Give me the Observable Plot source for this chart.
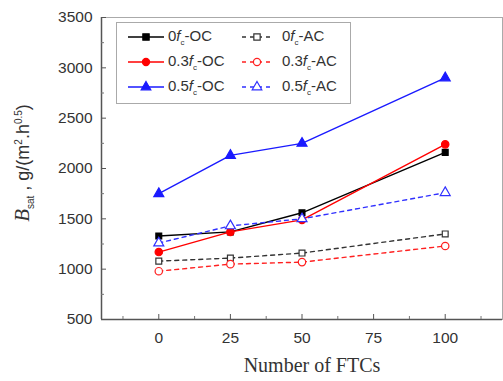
<!DOCTYPE html>
<html><head><meta charset="utf-8">
<script src="https://cdn.jsdelivr.net/npm/d3@7"></script>
<script src="https://cdn.jsdelivr.net/npm/@observablehq/plot@0.6"></script>
<style>
body{margin:0;background:#fff;}
#wrap{position:relative;width:503px;height:381px;font-family:"Liberation Sans",Arial,sans-serif;}
#legend{position:absolute;left:116px;top:22px;width:235px;height:82px;border:1px solid #aaa;background:#fff;box-sizing:border-box;}
.li{position:absolute;display:flex;align-items:center;font-size:15px;color:#333;height:16px;}
.li svg{display:block;}
#ylab{position:absolute;left:23px;top:163px;transform:translate(-50%,-50%) rotate(-90deg);white-space:nowrap;font-size:18px;color:#333;}
</style></head>
<body><div id="wrap"></div>
<script>
const ftc = [0, 25, 50, 100];
const seriesNames = ["0fc-OC","0.3fc-OC","0.5fc-OC","0fc-AC","0.3fc-AC","0.5fc-AC"];
const s0OC  = [1330, 1370, 1560, 2160];
const s03OC = [1170, 1370, 1490, 2240];
const s05OC = [1750, 2130, 2250, 2900];
const s0AC  = [1080, 1110, 1160, 1350];
const s03AC = [980, 1050, 1070, 1230];
const s05AC = [1260, 1430, 1500, 1760];
const xTicks = [0, 25, 50, 75, 100];
const xMinor = [-12.5, 12.5, 37.5, 62.5, 87.5, 112.5];
const yTicks = [500, 1000, 1500, 2000, 2500, 3000, 3500];
const yMinor = [750, 1250, 1750, 2250, 2750, 3250];
const xDomain = [-20, 120];
const yDomain = [500, 3500];
const xLabel = "Number of FTCs";

const styles = [
  {name: seriesNames[0], vals: s0OC,  color: "#000000", symbol: "square",   open: false, dash: null},
  {name: seriesNames[1], vals: s03OC, color: "#ff0000", symbol: "circle",   open: false, dash: null},
  {name: seriesNames[2], vals: s05OC, color: "#1a1aff", symbol: "triangle", open: false, dash: null},
  {name: seriesNames[3], vals: s0AC,  color: "#333333", symbol: "square",   open: true,  dash: "4,4"},
  {name: seriesNames[4], vals: s03AC, color: "#ff2020", symbol: "circle",   open: true,  dash: "4,4"},
  {name: seriesNames[5], vals: s05AC, color: "#3030ff", symbol: "triangle", open: true,  dash: "4,4"}
];
const rOf = {square: 3.3, circle: 3.7, triangle: 3.7};

const marks = [];
marks.push(Plot.frame({stroke: "#aaa"}));
marks.push(Plot.ruleX([xDomain[0]], {stroke: "#555", strokeWidth: 1.5}));
marks.push(Plot.ruleY([yDomain[0]], {stroke: "#555", strokeWidth: 1.5}));
marks.push(Plot.axisY({ticks: yTicks, tickSize: -5, tickPadding: 14, tickFormat: d3.format("d"), fontSize: 15.5, fill: "#333", stroke: "#555", label: null}));
marks.push(Plot.axisY({ticks: yMinor, tickSize: -3, tickFormat: () => "", stroke: "#777", label: null}));
marks.push(Plot.axisX({ticks: xTicks, tickSize: -5, tickPadding: 17, tickFormat: d3.format("d"), fontSize: 15.5, fill: "#333", stroke: "#555", label: null}));
marks.push(Plot.axisX({ticks: xMinor, tickSize: -3, tickFormat: () => "", stroke: "#777", label: null}));
marks.push(Plot.text([xLabel], {frameAnchor: "bottom", dy: 52, dx: 10, fontFamily: "Liberation Serif", fontSize: 20, fill: "#333"}));

for (const s of styles) {
  const data = ftc.map((x, i) => ({x, y: s.vals[i]}));
  marks.push(Plot.line(data, {x: "x", y: "y", stroke: s.color, strokeWidth: 1.4, strokeDasharray: s.dash}));
}
for (const s of styles) {
  const data = ftc.map((x, i) => ({x, y: s.vals[i]}));
  marks.push(Plot.dot(data, {x: "x", y: "y", symbol: s.symbol, r: rOf[s.symbol],
    fill: s.open ? "#fff" : s.color, stroke: s.color, strokeWidth: 1.2}));
}

const chart = Plot.plot({
  width: 503, height: 381,
  marginLeft: 101, marginRight: 1, marginTop: 17, marginBottom: 62,
  x: {domain: xDomain},
  y: {domain: yDomain},
  style: {fontFamily: "Liberation Sans, Arial, sans-serif", background: "#fff"},
  marks
});
const wrap = document.getElementById("wrap");
wrap.appendChild(chart);

// Legend (HTML overlay)
const legend = document.createElement("div");
legend.id = "legend";
wrap.appendChild(legend);
const pos = [[10, 6], [10, 31], [10, 56], [124, 6], [124, 31], [124, 56]];
const prefixes = ["0", "0.3", "0.5", "0", "0.3", "0.5"];
const suffixes = ["-OC", "-OC", "-OC", "-AC", "-AC", "-AC"];
styles.forEach((s, i) => {
  const item = document.createElement("div");
  item.className = "li";
  item.style.left = pos[i][0] + "px";
  item.style.top = pos[i][1] + "px";
  const w = i < 3 ? 38 : 32;
  const svg = d3.create("svg").attr("width", w).attr("height", 16);
  svg.append("line").attr("x1", 1).attr("x2", w - 1).attr("y1", 8).attr("y2", 8)
    .attr("stroke", s.color).attr("stroke-width", 1.4).attr("stroke-dasharray", s.dash);
  const sym = d3.symbol().type(s.symbol === "square" ? d3.symbolSquare : s.symbol === "circle" ? d3.symbolCircle : d3.symbolTriangle)
    .size(40);
  svg.append("path").attr("d", sym()).attr("transform", `translate(${w / 2},8)`)
    .attr("fill", s.open ? "#fff" : s.color).attr("stroke", s.color).attr("stroke-width", 1.2);
  item.appendChild(svg.node());
  const t = document.createElement("span");
  t.style.marginLeft = (i < 3 ? 3 : 9) + "px";
  t.innerHTML = prefixes[i] + "<i>f</i><sub style='font-size:8px'>c</sub>" + suffixes[i];
  item.appendChild(t);
  legend.appendChild(item);
});

// Y label
const yl = document.createElement("div");
yl.id = "ylab";
yl.innerHTML = "<i style='font-family:Liberation Serif;font-size:21px'>B</i><sub style='font-size:10px'>sat</sub> , g/(m<sup style='font-size:10px'>2</sup>.h<sup style='font-size:10px'>0.5</sup>)";
wrap.appendChild(yl);
</script></body></html>
